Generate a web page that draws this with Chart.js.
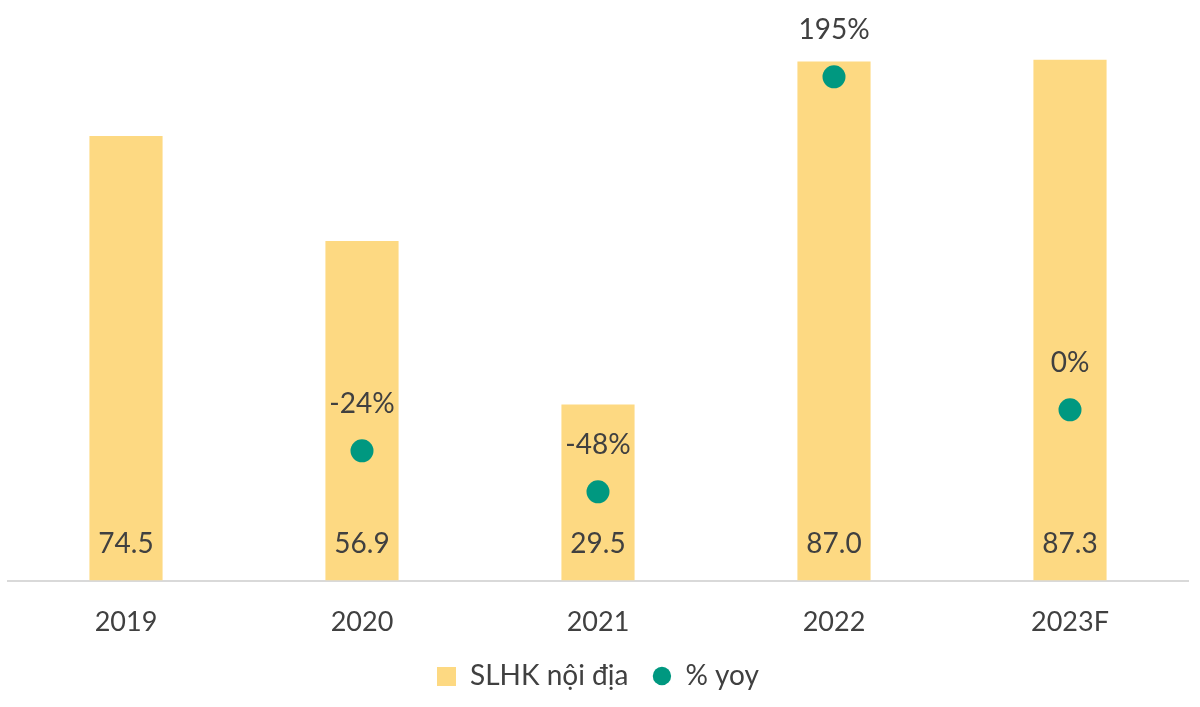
<!DOCTYPE html>
<html><head><meta charset="utf-8">
<script src="https://cdn.jsdelivr.net/npm/chart.js@4.4.0/dist/chart.umd.min.js"></script>
<style>html,body{margin:0;padding:0;background:#fff}#wrap{width:1200px;height:707px;position:relative}</style>
</head><body><div id="wrap"><canvas id="c"></canvas></div>
<script>
const categories = ['2019', '2020', '2021', '2022', '2023F'];
const volumeValues = [74.5, 56.9, 29.5, 87.0, 87.3];
const yoyValues = [null, -24, -48, 195, 0];
const volumeLabels = ['74.5', '56.9', '29.5', '87.0', '87.3'];
const yoyLabels = ['', '-24%', '-48%', '195%', '0%'];
const seriesNames = ['SLHK nội địa', '% yoy'];

const BAR_COLOR = '#FDD982';
const DOT_COLOR = '#009880';
const TEXT_COLOR = '#404040';
const FONT = 'Lato, "Open Sans", sans-serif';

const sq = document.createElement('canvas');
sq.width = 19; sq.height = 19;
const sctx = sq.getContext('2d');
sctx.fillStyle = BAR_COLOR; sctx.fillRect(0, 0, 19, 19);

const labelPlugin = {
  id: 'valueLabels',
  afterDatasetsDraw(chart) {
    const ctx = chart.ctx;
    ctx.save();
    ctx.font = '28px ' + FONT;
    ctx.fillStyle = TEXT_COLOR;
    ctx.textAlign = 'center';
    ctx.textBaseline = 'middle';
    const base = chart.scales.y.getPixelForValue(0);
    chart.getDatasetMeta(0).data.forEach((el, i) => {
      ctx.fillText(volumeLabels[i], el.x, base - 37);
    });
    chart.getDatasetMeta(1).data.forEach((el, i) => {
      if (yoyValues[i] === null) return;
      ctx.fillText(yoyLabels[i], el.x, el.y - 47);
    });
    ctx.restore();
  }
};

new Chart(document.getElementById('c'), {
  data: {
    labels: categories,
    datasets: [
      {
        type: 'bar', label: seriesNames[0], data: volumeValues,
        backgroundColor: BAR_COLOR, borderWidth: 0,
        barPercentage: 0.31, categoryPercentage: 1, yAxisID: 'y', order: 2
      },
      {
        type: 'line', label: seriesNames[1], data: yoyValues,
        showLine: false, pointRadius: 11.5, pointHoverRadius: 11.5,
        pointBackgroundColor: DOT_COLOR, pointBorderWidth: 0,
        backgroundColor: DOT_COLOR, borderColor: DOT_COLOR,
        pointStyle: 'circle', yAxisID: 'y2', order: 1, clip: false
      }
    ]
  },
  options: {
    responsive: true, maintainAspectRatio: false, animation: false, events: [],
    layout: { autoPadding: false, padding: { left: 8, right: 12, top: 0, bottom: 7 } },
    scales: {
      x: {
        grid: { display: false, drawTicks: true, tickLength: 25 },
        border: { display: true, color: '#D9D9D9', width: 2 },
        ticks: { color: TEXT_COLOR, font: { family: FONT, size: 27 }, padding: 0 }
      },
      y: { display: false, min: 0, max: 97.3 },
      y2: { display: false, min: -100, max: 240 }
    },
    plugins: {
      tooltip: { enabled: false },
      legend: {
        position: 'bottom',
        labels: {
          usePointStyle: true, boxWidth: 19, boxHeight: 13, padding: 24,
          color: TEXT_COLOR, font: { family: FONT, size: 28 },
          generateLabels(chart) {
            const items = Chart.defaults.plugins.legend.labels.generateLabels(chart);
            items.sort((a, b) => a.datasetIndex - b.datasetIndex);
            items.forEach(it => {
              if (it.datasetIndex === 0) { it.pointStyle = sq; }
              else { it.pointStyle = 'circle'; it.fillStyle = DOT_COLOR; it.lineWidth = 0; }
            });
            return items;
          }
        }
      }
    }
  },
  plugins: [labelPlugin]
});
</script>
</body></html>
